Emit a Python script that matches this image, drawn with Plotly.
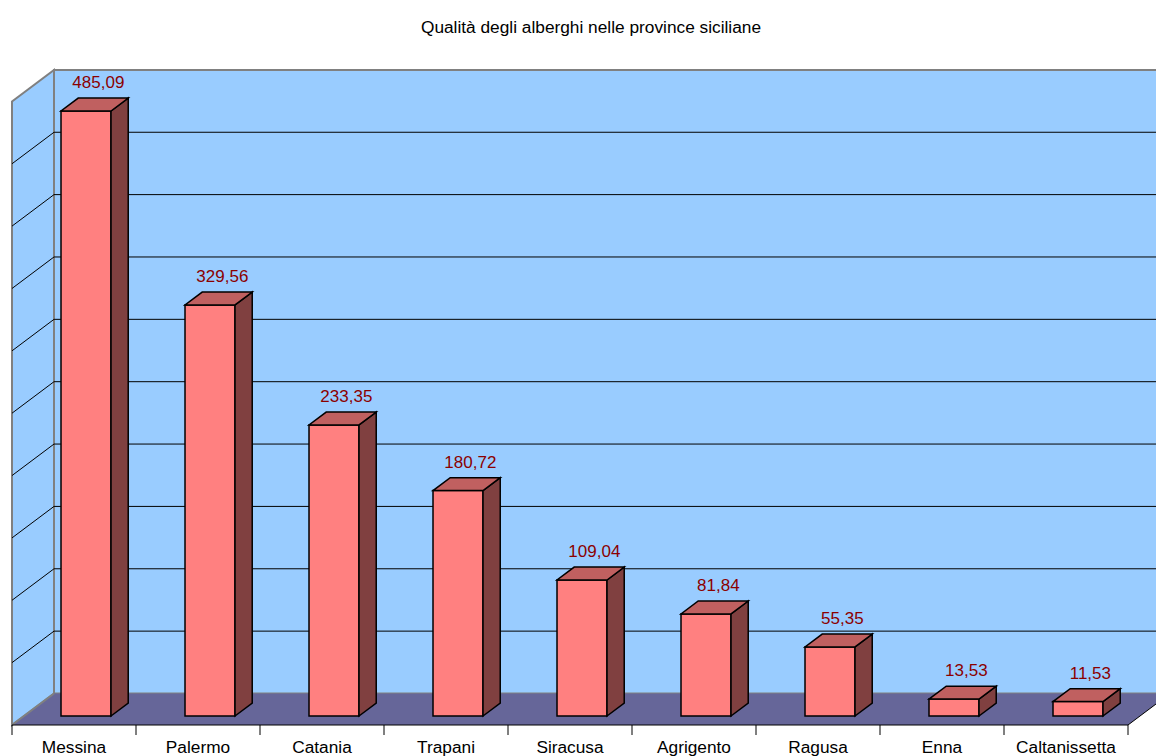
import plotly.graph_objects as go

# Province data
province = ["Messina", "Palermo", "Catania", "Trapani", "Siracusa",
            "Agrigento", "Ragusa", "Enna", "Caltanissetta"]
qualita = [485.09, 329.56, 233.35, 180.72, 109.04, 81.84, 55.35, 13.53, 11.53]

# Value axis
v_max = 500
v_step = 50

# Pseudo-3D geometry (pixels)
CAT_PX = 124.0          # width of one category on the front edge
UNIT_PX = 1.2472        # pixels per value unit
DEPTH_X_PX = 42.0       # horizontal shift from front to back wall
DEPTH_Y_PX = 31.5       # vertical shift from front to back wall
ORIGIN_X = 12.0         # left end of the floor front edge
ORIGIN_Y = 725.0        # floor front edge
W, H = 1156, 756

DX = DEPTH_X_PX / CAT_PX     # depth shift in x data units
DY = DEPTH_Y_PX / UNIT_PX    # depth shift in y data units

BAR_FRONT = 0.286       # depth fraction of bar front face
BAR_DEPTH = 0.41        # depth fraction occupied by the bar
BAR_W = 50.0 / CAT_PX   # bar width in category units

n = len(province)

FRONT = "#FF8080"
SIDE = "#804040"
TOP = "#C06060"
WALL = "#99CCFF"
FLOOR = "#666699"
EDGE = "#808080"
FONT = "Liberation Sans, Arial, sans-serif"


def poly(pts):
    return "M " + " L ".join(f"{x:.5f},{y:.5f}" for x, y in pts) + " Z"


shapes = []

# Left wall
shapes.append(dict(type="path", xref="x", yref="y", layer="below",
                   path=poly([(0, 0), (DX, DY), (DX, v_max + DY), (0, v_max)]),
                   fillcolor=WALL, line=dict(color=EDGE, width=2)))
# Back wall
shapes.append(dict(type="path", xref="x", yref="y", layer="below",
                   path=poly([(DX, DY), (n + DX, DY), (n + DX, v_max + DY), (DX, v_max + DY)]),
                   fillcolor=WALL, line=dict(color=EDGE, width=2)))

# Gridlines on both walls
for v in range(v_step, v_max, v_step):
    shapes.append(dict(type="line", xref="x", yref="y", layer="below",
                       x0=DX, y0=v + DY, x1=n + DX, y1=v + DY,
                       line=dict(color="black", width=1)))
    shapes.append(dict(type="line", xref="x", yref="y", layer="below",
                       x0=0, y0=v, x1=DX, y1=v + DY,
                       line=dict(color="black", width=1)))

# Floor
shapes.append(dict(type="path", xref="x", yref="y", layer="below",
                   path=poly([(0, 0), (n, 0), (n + DX, DY), (DX, DY)]),
                   fillcolor=FLOOR, line=dict(width=0)))
shapes.append(dict(type="line", xref="x", yref="y", layer="below",
                   x0=0, y0=0, x1=DX, y1=DY, line=dict(color=EDGE, width=2)))
shapes.append(dict(type="line", xref="x", yref="y", layer="below",
                   x0=n, y0=0, x1=n + DX, y1=DY, line=dict(color="black", width=1)))
# Category axis line and tick marks
shapes.append(dict(type="line", xref="x", yref="y", layer="below",
                   x0=0, y0=0, x1=n, y1=0, line=dict(color="black", width=1)))
tick_len = 10.0 / UNIT_PX
for k in range(n + 1):
    shapes.append(dict(type="line", xref="x", yref="y", layer="below",
                       x0=k, y0=0, x1=k, y1=-tick_len, line=dict(color="black", width=1)))

# Bars: front face as bar trace, side and top faces as shapes
base = DY * BAR_FRONT
bx = DX * BAR_DEPTH
by = DY * BAR_DEPTH
centers = [i + 0.5 + DX * BAR_FRONT for i in range(n)]

for xc, v in zip(centers, qualita):
    xl, xr = xc - BAR_W / 2, xc + BAR_W / 2
    shapes.append(dict(type="path", xref="x", yref="y", layer="above",
                       path=poly([(xr, base), (xr + bx, base + by),
                                  (xr + bx, base + by + v), (xr, base + v)]),
                       fillcolor=SIDE, line=dict(color="black", width=1.5)))
    shapes.append(dict(type="path", xref="x", yref="y", layer="above",
                       path=poly([(xl, base + v), (xr, base + v),
                                  (xr + bx, base + v + by), (xl + bx, base + v + by)]),
                       fillcolor=TOP, line=dict(color="black", width=1.5)))

fig = go.Figure()

fig.add_trace(go.Bar(
    x=centers, y=qualita, base=[base] * n, width=BAR_W,
    marker=dict(color=FRONT, line=dict(color="black", width=1.5)),
    hoverinfo="skip", showlegend=False,
))

# Value labels above each bar
label_x = [xc + DX * (0.58 - BAR_FRONT) for xc in centers]
label_y = [v + base + by + 14.0 / UNIT_PX for v in qualita]
fig.add_trace(go.Scatter(
    x=label_x, y=label_y, mode="text",
    text=[f"{v:.2f}".replace(".", ",") for v in qualita],
    textposition="middle center",
    textfont=dict(family=FONT, size=17, color="#8B0000"),
    hoverinfo="skip", showlegend=False, cliponaxis=False,
))

# Category labels under the floor
fig.add_trace(go.Scatter(
    x=[i + 0.5 for i in range(n)], y=[-(749 - ORIGIN_Y) / UNIT_PX] * n,
    mode="text", text=province, textposition="middle center",
    textfont=dict(family=FONT, size=17.3, color="black"),
    hoverinfo="skip", showlegend=False, cliponaxis=False,
))

fig.update_layout(
    width=W, height=H,
    margin=dict(l=0, r=0, t=0, b=0, pad=0),
    paper_bgcolor="white", plot_bgcolor="white",
    title=dict(text="Qualità degli alberghi nelle province siciliane",
               x=591 / W, xanchor="center", y=1 - 26.5 / H, yanchor="middle",
               font=dict(family=FONT, size=17.3, color="black")),
    xaxis=dict(visible=False, range=[-ORIGIN_X / CAT_PX, (W - ORIGIN_X) / CAT_PX]),
    yaxis=dict(visible=False, range=[(ORIGIN_Y - H) / UNIT_PX, ORIGIN_Y / UNIT_PX]),
    shapes=shapes,
)

fig.write_html("out.html")
